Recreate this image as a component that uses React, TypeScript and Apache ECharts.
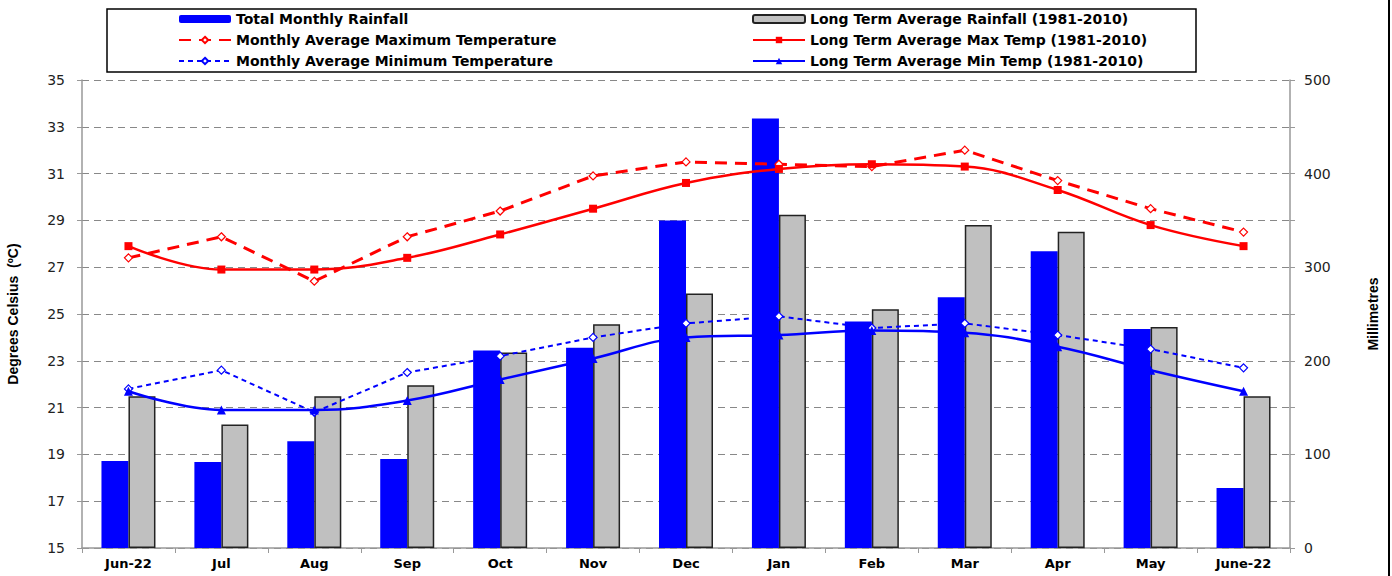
import React, { useEffect, useRef } from "react";
import * as echarts from "echarts";

const categories = ["Jun-22", "Jul", "Aug", "Sep", "Oct", "Nov", "Dec", "Jan", "Feb", "Mar", "Apr", "May", "June-22"];
const totalRainfall = [93, 92, 114, 95, 211, 214, 350, 459, 242, 268, 317, 234, 64];
const ltaRainfall = [162, 132, 162, 174, 209, 239, 272, 356, 255, 345, 338, 236, 162];
const monthlyMax = [27.4, 28.3, 26.4, 28.3, 29.4, 30.9, 31.5, 31.4, 31.3, 32.0, 30.7, 29.5, 28.5];
const ltaMax = [27.9, 26.9, 26.9, 27.4, 28.4, 29.5, 30.6, 31.2, 31.4, 31.3, 30.3, 28.8, 27.9];
const monthlyMin = [21.8, 22.6, 20.8, 22.5, 23.2, 24.0, 24.6, 24.9, 24.4, 24.6, 24.1, 23.5, 22.7];
const ltaMin = [21.7, 20.9, 20.9, 21.3, 22.2, 23.1, 24.0, 24.1, 24.3, 24.2, 23.6, 22.6, 21.7];
const tempTicks = [15, 17, 19, 21, 23, 25, 27, 29, 31, 33, 35];

const legendFont = { fontFamily: "DejaVu Sans", fontWeight: "bold", fontSize: 14, color: "#000", lineHeight: 14 };

export default function App() {
  const ref = useRef<HTMLDivElement>(null);
  useEffect(() => {
    const chart = echarts.init(ref.current!, null, { renderer: "svg" });
    const option: any = {
      animation: false,
      backgroundColor: "#fff",
      grid: { left: 82, right: 102, top: 80, bottom: 28, containLabel: false, outerBoundsMode: "none" },
      legend: [
        {
          orient: "vertical",
          left: 173,
          top: 7,
          itemWidth: 52,
          itemHeight: 8,
          itemGap: 7,
          selectedMode: false,
          textStyle: legendFont,
          data: ["Total Monthly Rainfall", "Monthly Average Maximum Temperature", "Monthly Average Minimum Temperature"],
        },
        {
          orient: "vertical",
          left: 747,
          top: 7,
          itemWidth: 52,
          itemHeight: 8,
          itemGap: 7,
          selectedMode: false,
          textStyle: legendFont,
          data: ["Long Term Average Rainfall (1981-2010)", "Long Term Average Max Temp (1981-2010)", "Long Term Average Min Temp (1981-2010)"],
        },
      ],
      xAxis: {
        type: "category",
        data: categories,
        axisLine: { lineStyle: { color: "#999", width: 1.5 } },
        axisTick: { show: true, length: 5, lineStyle: { color: "#999" } },
        axisLabel: { fontFamily: "DejaVu Sans", fontWeight: "bold", fontSize: 13, color: "#000", margin: 9 },
      },
      yAxis: [
        {
          type: "value",
          position: "left",
          min: 15,
          max: 35,
          interval: 2,
          name: "Degrees Celsius  (ºC)",
          nameLocation: "middle",
          nameRotate: 90,
          nameGap: 62,
          nameTextStyle: { fontFamily: "Liberation Sans", fontWeight: "bold", fontSize: 14, color: "#000" },
          axisLine: { show: true, lineStyle: { color: "#999", width: 1.5 } },
          axisTick: { show: true, length: 5, lineStyle: { color: "#999" }, customValues: tempTicks },
          axisLabel: { fontFamily: "DejaVu Sans", fontSize: 14, color: "#222", margin: 17, customValues: tempTicks },
          splitLine: { show: true, lineStyle: { color: "#888", width: 1, type: [7, 5] } },
        },
        {
          type: "value",
          position: "right",
          min: 0,
          max: 500,
          interval: 50,
          name: "Millimetres",
          nameLocation: "middle",
          nameRotate: 90,
          nameGap: 76,
          nameTextStyle: { fontFamily: "Liberation Sans", fontWeight: "bold", fontSize: 14, color: "#000" },
          axisLine: { show: true, lineStyle: { color: "#999", width: 1.5 } },
          axisTick: { show: true, length: 5, lineStyle: { color: "#999" } },
          axisLabel: {
            fontFamily: "DejaVu Sans",
            fontSize: 14,
            color: "#222",
            margin: 14,
            formatter: (v: number) => (v % 100 === 0 ? String(v) : ""),
          },
          splitLine: { show: false },
        },
      ],
      series: [
        {
          name: "Total Monthly Rainfall",
          type: "bar",
          yAxisIndex: 1,
          barWidth: 27,
          barGap: "0%",
          itemStyle: { color: "#0000ff" },
          data: totalRainfall,
          z: 2,
        },
        {
          name: "Long Term Average Rainfall (1981-2010)",
          type: "bar",
          yAxisIndex: 1,
          barWidth: 27,
          barGap: "0%",
          itemStyle: { color: "#c0c0c0", borderColor: "#222", borderWidth: 1.5 },
          data: ltaRainfall,
          z: 2,
        },
        {
          name: "Monthly Average Maximum Temperature",
          type: "line",
          yAxisIndex: 0,
          data: monthlyMax,
          lineStyle: { color: "#ff0000", width: 3, type: [12, 8] },
          symbol: "diamond",
          symbolSize: 8,
          showAllSymbol: true,
          itemStyle: { color: "#ffffff", borderColor: "#ff0000", borderWidth: 1.2 },
          z: 5,
        },
        {
          name: "Long Term Average Max Temp (1981-2010)",
          type: "line",
          yAxisIndex: 0,
          data: ltaMax,
          smooth: 0.4,
          lineStyle: { color: "#ff0000", width: 2.5 },
          symbol: "rect",
          symbolSize: 8,
          showAllSymbol: true,
          itemStyle: { color: "#ff0000" },
          z: 5,
        },
        {
          name: "Monthly Average Minimum Temperature",
          type: "line",
          yAxisIndex: 0,
          data: monthlyMin,
          lineStyle: { color: "#0000ff", width: 2, type: [5, 4] },
          symbol: "diamond",
          symbolSize: 8,
          showAllSymbol: true,
          itemStyle: { color: "#ffffff", borderColor: "#0000ff", borderWidth: 1.2 },
          z: 5,
        },
        {
          name: "Long Term Average Min Temp (1981-2010)",
          type: "line",
          yAxisIndex: 0,
          data: ltaMin,
          smooth: 0.4,
          lineStyle: { color: "#0000ff", width: 2.5 },
          symbol: "triangle",
          symbolSize: 9,
          showAllSymbol: true,
          itemStyle: { color: "#0000ff" },
          z: 5,
        },
      ],
      graphic: [
        {
          type: "rect",
          shape: { x: 107, y: 9, width: 1089, height: 63 },
          style: { fill: "none", stroke: "#000", lineWidth: 1.5 },
          silent: true,
          z: -1,
        },
        {
          type: "line",
          shape: { x1: 1389, y1: 0, x2: 1389, y2: 576 },
          style: { stroke: "#000", lineWidth: 2 },
          silent: true,
        },
      ],
    };
    chart.setOption(option);
    return () => chart.dispose();
  }, []);
  return <div ref={ref} style={{ position: "fixed", left: 0, top: 0, width: 1392, height: 576 }} />;
}
